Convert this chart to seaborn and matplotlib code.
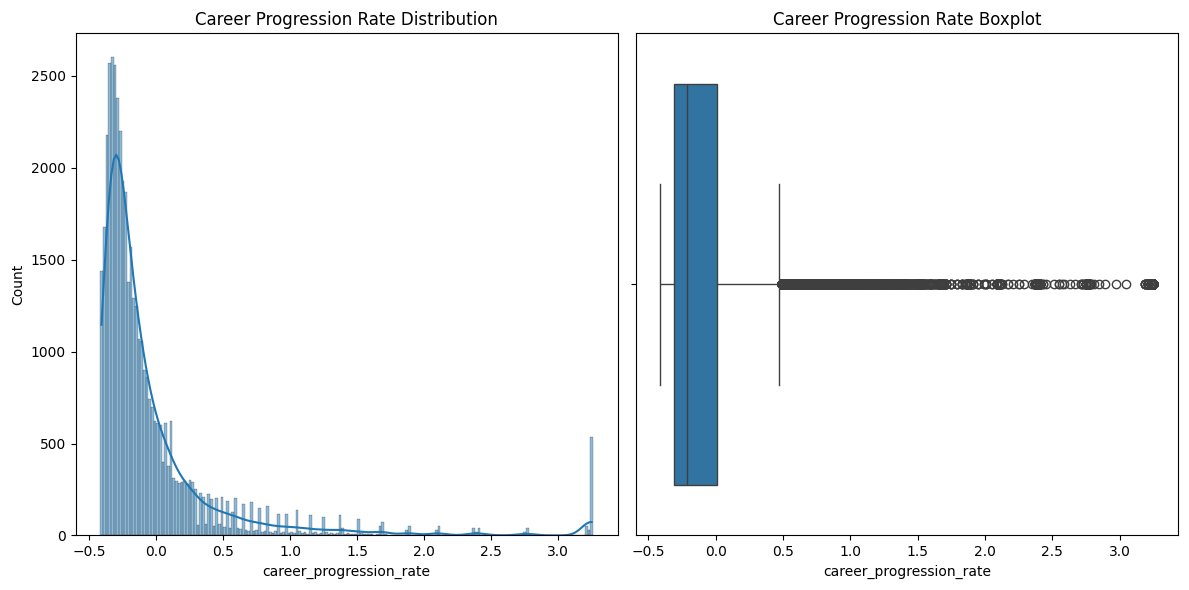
import numpy as np
import matplotlib
matplotlib.use("Agg")
import matplotlib.pyplot as plt
import seaborn as sns

# histogram: bins of width 0.02 starting at -0.42
bin_start = -0.42
bin_width = 0.02
counts = [
    1440, 1680, 2180, 2570, 2600, 2560, 2380, 2200, 1930, 1870,
    1380, 1570, 1290, 1250, 1070, 1060, 900, 860, 740, 700,
    620, 610, 600, 400, 610, 380, 620, 310, 295, 285,
    290, 295, 280, 300, 290, 250, 55, 230, 210, 60,
    225, 200, 50, 205, 60, 210, 45, 185, 40, 130,
    205, 40, 35, 170, 30, 25, 180, 25, 30, 148,
    20, 25, 159, 20, 15, 25, 119, 15, 20, 119,
    15, 20, 15, 141, 25, 15, 20, 10, 114, 15,
    20, 10, 15, 100, 20, 10, 15, 10, 12, 110,
    43, 10, 12, 8, 10, 8, 92, 12, 8, 6,
    10, 6, 5, 8, 54, 72,
    # tail, 1.71 .. 2.35
    6, 0, 4, 0, 3, 0, 4, 2, 30, 54,
    3, 0, 3, 0, 2, 3, 0, 2, 0, 32,
    54, 2, 0, 2, 0, 1, 0, 2, 0, 1,
    0, 0, 1,
    # 2.37 .. 2.77
    38, 20, 38,
    2, 1, 0, 0, 1, 0, 2, 1, 1, 0,
    1, 0, 1, 0, 2, 3,
    18, 43,
    # 2.79 .. 3.25
    3, 1, 0, 1, 0, 1, 0, 0, 0, 1,
    0, 0, 0, 1, 0, 0, 0, 0, 0, 0,
    5, 54, 30, 534,
]

edges = bin_start + bin_width * np.arange(len(counts) + 1)
centers = (edges[:-1] + edges[1:]) / 2
career_progression_rate = np.repeat(centers, counts)

fig, axes = plt.subplots(1, 2, figsize=(11.89, 5.9), dpi=100)

sns.histplot(x=career_progression_rate, bins=edges, kde=True, ax=axes[0])
axes[0].set_title("Career Progression Rate Distribution")
axes[0].set_xlabel("career_progression_rate")

sns.boxplot(x=career_progression_rate, ax=axes[1])
axes[1].set_title("Career Progression Rate Boxplot")
axes[1].set_xlabel("career_progression_rate")

plt.tight_layout(pad=0.8)
plt.savefig("out.png", dpi=100)
